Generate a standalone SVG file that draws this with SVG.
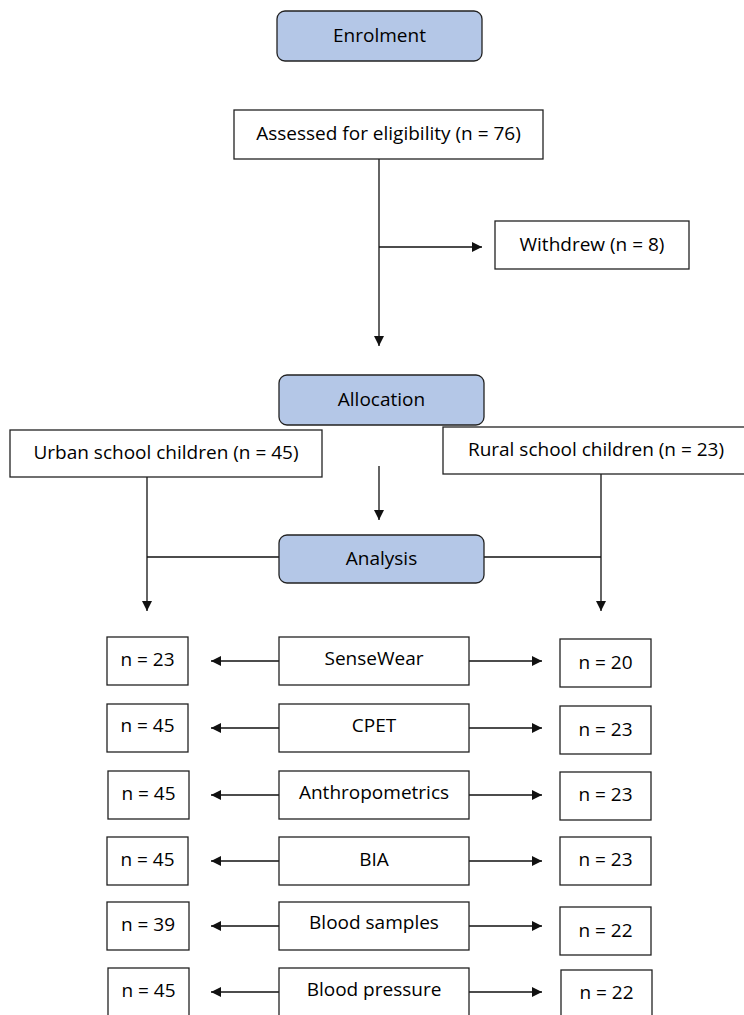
<svg xmlns="http://www.w3.org/2000/svg" width="744" height="1015" viewBox="0 0 744 1015">
<defs>
<marker id="ah" viewBox="0 0 10 10" refX="10" refY="5" markerWidth="10" markerHeight="10" markerUnits="userSpaceOnUse" orient="auto">
<path d="M0,0 L10,5 L0,10 z" fill="#111"/>
</marker>
<style>
.box{fill:#fff;stroke:#222;stroke-width:1.3}
.hdr{fill:#b4c7e7;stroke:#222;stroke-width:1.3}
.t{font-family:"Open Sans","Liberation Sans",Arial,sans-serif;font-size:19px;fill:#000;text-anchor:middle;dominant-baseline:central}
.c{fill:none;stroke:#111;stroke-width:1.3}
</style>
</defs>
<rect width="744" height="1015" fill="#fff"/>
<g id="connectors">
<line class="c" x1="379" y1="159" x2="379" y2="346" marker-end="url(#ah)"/>
<line class="c" x1="379" y1="247" x2="482" y2="247" marker-end="url(#ah)"/>
<line class="c" x1="379" y1="466" x2="379" y2="520" marker-end="url(#ah)"/>
<line class="c" x1="147" y1="477" x2="147" y2="611" marker-end="url(#ah)"/>
<line class="c" x1="601" y1="474" x2="601" y2="611" marker-end="url(#ah)"/>
<line class="c" x1="147" y1="557" x2="279" y2="557"/>
<line class="c" x1="484" y1="557" x2="601" y2="557"/>
<line class="c" x1="279" y1="661" x2="211" y2="661" marker-end="url(#ah)"/>
<line class="c" x1="469" y1="661" x2="542" y2="661" marker-end="url(#ah)"/>
<line class="c" x1="279" y1="728" x2="211" y2="728" marker-end="url(#ah)"/>
<line class="c" x1="469" y1="728" x2="542" y2="728" marker-end="url(#ah)"/>
<line class="c" x1="279" y1="795" x2="211" y2="795" marker-end="url(#ah)"/>
<line class="c" x1="469" y1="795" x2="542" y2="795" marker-end="url(#ah)"/>
<line class="c" x1="279" y1="861" x2="211" y2="861" marker-end="url(#ah)"/>
<line class="c" x1="469" y1="861" x2="542" y2="861" marker-end="url(#ah)"/>
<line class="c" x1="279" y1="926" x2="211" y2="926" marker-end="url(#ah)"/>
<line class="c" x1="469" y1="926" x2="542" y2="926" marker-end="url(#ah)"/>
<line class="c" x1="279" y1="992" x2="211" y2="992" marker-end="url(#ah)"/>
<line class="c" x1="469" y1="992" x2="542" y2="992" marker-end="url(#ah)"/>
</g>
<g id="enrolment"><rect class="hdr" x="277" y="11" width="205" height="50" rx="8"/><text class="t" x="379.5" y="35">Enrolment</text></g>
<g id="assessed"><rect class="box" x="234" y="110" width="309" height="49"/><text class="t" x="388.5" y="133">Assessed for eligibility (n = 76)</text></g>
<g id="withdrew"><rect class="box" x="495" y="221" width="194" height="48"/><text class="t" x="592" y="244">Withdrew (n = 8)</text></g>
<g id="allocation"><rect class="hdr" x="279" y="375" width="205" height="50" rx="8"/><text class="t" x="381.5" y="399">Allocation</text></g>
<g id="urban"><rect class="box" x="10" y="430" width="312" height="47"/><text class="t" x="166" y="452">Urban school children (n = 45)</text></g>
<g id="rural"><rect class="box" x="443" y="427" width="305" height="47"/><text class="t" x="596" y="449">Rural school children (n = 23)</text></g>
<g id="analysis"><rect class="hdr" x="279" y="535" width="205" height="48" rx="8"/><text class="t" x="381.5" y="558">Analysis</text></g>
<g id="sw-l"><rect class="box" x="107" y="637" width="81" height="48"/><text class="t" x="147.5" y="659">n = 23</text></g>
<g id="sw"><rect class="box" x="279" y="637" width="190" height="48"/><text class="t" x="374" y="658">SenseWear</text></g>
<g id="sw-r"><rect class="box" x="560" y="639" width="91" height="48"/><text class="t" x="605.5" y="662">n = 20</text></g>
<g id="cpet-l"><rect class="box" x="107" y="704" width="81" height="48"/><text class="t" x="147.5" y="725">n = 45</text></g>
<g id="cpet"><rect class="box" x="279" y="704" width="190" height="48"/><text class="t" x="374" y="725">CPET</text></g>
<g id="cpet-r"><rect class="box" x="560" y="706" width="91" height="48"/><text class="t" x="605.5" y="729">n = 23</text></g>
<g id="anth-l"><rect class="box" x="108" y="771" width="81" height="48"/><text class="t" x="148.5" y="793">n = 45</text></g>
<g id="anth"><rect class="box" x="279" y="771" width="190" height="48"/><text class="t" x="374" y="792">Anthropometrics</text></g>
<g id="anth-r"><rect class="box" x="560" y="772" width="91" height="48"/><text class="t" x="605.5" y="794">n = 23</text></g>
<g id="bia-l"><rect class="box" x="107" y="837" width="81" height="48"/><text class="t" x="147.5" y="859">n = 45</text></g>
<g id="bia"><rect class="box" x="279" y="837" width="190" height="48"/><text class="t" x="374" y="859">BIA</text></g>
<g id="bia-r"><rect class="box" x="560" y="837" width="91" height="48"/><text class="t" x="605.5" y="859">n = 23</text></g>
<g id="bs-l"><rect class="box" x="107" y="902" width="82" height="48"/><text class="t" x="148" y="924">n = 39</text></g>
<g id="bs"><rect class="box" x="279" y="902" width="190" height="48"/><text class="t" x="374" y="922">Blood samples</text></g>
<g id="bs-r"><rect class="box" x="560" y="907" width="91" height="48"/><text class="t" x="605.5" y="930">n = 22</text></g>
<g id="bp-l"><rect class="box" x="108" y="968" width="81" height="60"/><text class="t" x="148.5" y="990">n = 45</text></g>
<g id="bp"><rect class="box" x="279" y="968" width="190" height="60"/><text class="t" x="374" y="989">Blood pressure</text></g>
<g id="bp-r"><rect class="box" x="561" y="970" width="91" height="60"/><text class="t" x="606.5" y="992">n = 22</text></g>
</svg>
